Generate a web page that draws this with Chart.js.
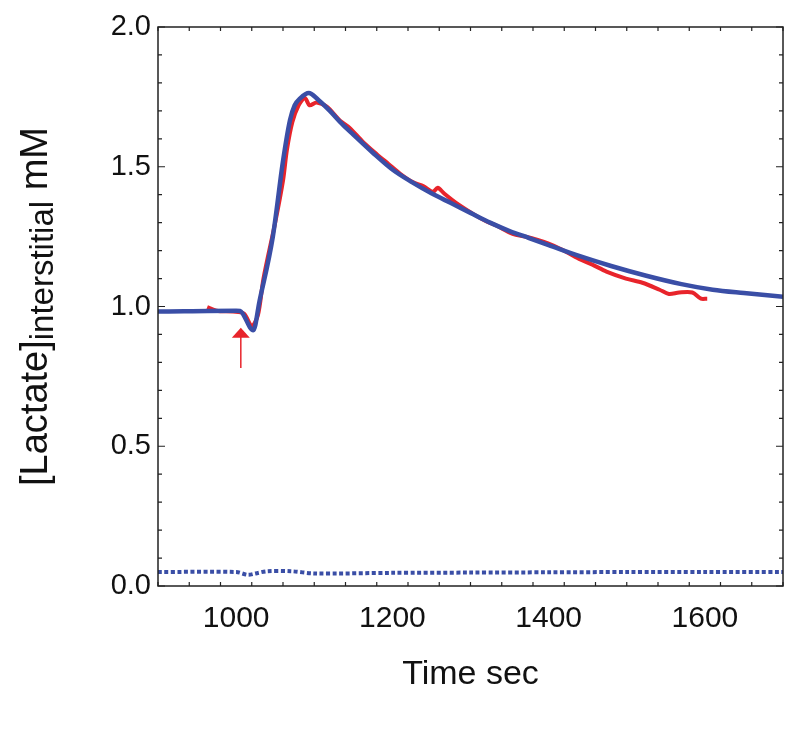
<!DOCTYPE html>
<html lang="en">
<head>
  <meta charset="UTF-8">
  <title>Interstitial lactate</title>
  <script src="https://cdn.jsdelivr.net/npm/chart.js"></script>
  <style>
    body { margin: 0; background: #fff; }
    #wrap { width: 800px; height: 730px; }
  </style>
</head>
<body>
  <div id="wrap"><canvas id="lactChart" width="800" height="730"></canvas></div>

  <script>
    // model fit (solid blue)
    const fitTime = [900, 1000, 1005, 1022, 1030, 1047, 1060, 1069, 1075, 1082, 1093, 1105, 1120, 1135, 1150,
      1175, 1200, 1225, 1250, 1275, 1300, 1325, 1350, 1375, 1400, 1440, 1480, 1525, 1570, 1610, 1650, 1700];
    const fitLact = [0.982, 0.985, 0.984, 0.915, 1.02, 1.25, 1.52, 1.667, 1.72, 1.745, 1.764, 1.74, 1.70, 1.655, 1.615,
      1.55, 1.49, 1.445, 1.405, 1.37, 1.335, 1.30, 1.27, 1.245, 1.22, 1.18, 1.145, 1.11, 1.08, 1.06, 1.048, 1.035];

    // measured (red)
    const measTime = [963, 975, 996, 1010, 1020, 1028, 1035, 1050, 1060, 1065, 1072, 1080, 1088, 1094, 1103, 1116,
      1133, 1145, 1162, 1180, 1195, 1210, 1226, 1240, 1252, 1258, 1266, 1282, 1307, 1320, 1333, 1354, 1370, 1384,
      1400, 1416, 1439, 1456, 1474, 1499, 1520, 1542, 1554, 1567, 1584, 1595, 1603];
    const measLact = [0.998, 0.985, 0.982, 0.975, 0.93, 0.97, 1.10, 1.30, 1.45, 1.56, 1.66, 1.72, 1.746, 1.72, 1.73, 1.715,
      1.665, 1.64, 1.59, 1.545, 1.51, 1.475, 1.445, 1.43, 1.41, 1.425, 1.405, 1.37, 1.325, 1.305, 1.29, 1.26, 1.25, 1.24,
      1.225, 1.205, 1.17, 1.15, 1.125, 1.1, 1.085, 1.06, 1.045, 1.05, 1.05, 1.028, 1.028];

    // dotted blue near zero
    const dotTime = [900, 1000, 1015, 1025, 1040, 1070, 1100, 1200, 1300, 1400, 1500, 1600, 1700];
    const dotLact = [0.05, 0.05, 0.04, 0.045, 0.053, 0.053, 0.045, 0.047, 0.048, 0.049, 0.05, 0.05, 0.05];

    const xTicks = [1000, 1200, 1400, 1600];
    const yTicks = [0, 0.5, 1.0, 1.5, 2.0];
    const xMinorStep = 40;
    const yMinorStep = 0.1;

    const arrowTime = 1006;
    const arrowFrom = 0.78;
    const arrowTo = 0.924;

    const BLUE = '#3a4ea6';
    const RED = '#e8242b';
    const FONT = '"Liberation Sans", Arial, sans-serif';

    const toPoints = (xs, ys) => xs.map((x, i) => ({ x: x, y: ys[i] }));

    // frame, inward ticks on all sides, stimulus arrow, y title with subscript
    const decorPlugin = {
      id: 'decor',
      afterDraw(chart) {
        const ctx = chart.ctx;
        const xs = chart.scales.x, ys = chart.scales.y;
        const a = chart.chartArea;
        ctx.save();
        ctx.strokeStyle = '#222';
        ctx.lineWidth = 1.5;
        ctx.strokeRect(a.left, a.top, a.right - a.left, a.bottom - a.top);

        ctx.lineWidth = 1.2;
        ctx.beginPath();
        for (let v = xs.min; v <= xs.max + 1e-6; v += xMinorStep) {
          const px = xs.getPixelForValue(v);
          const len = xTicks.includes(Math.round(v)) ? 7 : 4;
          ctx.moveTo(px, a.bottom); ctx.lineTo(px, a.bottom - len);
          ctx.moveTo(px, a.top); ctx.lineTo(px, a.top + len);
        }
        for (let v = ys.min; v <= ys.max + 1e-6; v += yMinorStep) {
          const py = ys.getPixelForValue(v);
          const major = yTicks.some(t => Math.abs(t - v) < 1e-6);
          const len = major ? 7 : 4;
          ctx.moveTo(a.left, py); ctx.lineTo(a.left + len, py);
          ctx.moveTo(a.right, py); ctx.lineTo(a.right - len, py);
        }
        ctx.stroke();

        // red arrow
        const ax = xs.getPixelForValue(arrowTime);
        const ay0 = ys.getPixelForValue(arrowFrom);
        const ay1 = ys.getPixelForValue(arrowTo);
        ctx.strokeStyle = RED;
        ctx.fillStyle = RED;
        ctx.lineWidth = 1.5;
        ctx.beginPath();
        ctx.moveTo(ax, ay0); ctx.lineTo(ax, ay1 + 6);
        ctx.stroke();
        ctx.beginPath();
        ctx.moveTo(ax, ay1);
        ctx.lineTo(ax - 9, ay1 + 10);
        ctx.lineTo(ax + 9, ay1 + 10);
        ctx.closePath();
        ctx.fill();

        // y axis title
        const cy = (a.top + a.bottom) / 2;
        ctx.translate(35, cy);
        ctx.rotate(-Math.PI / 2);
        ctx.fillStyle = '#111';
        ctx.textBaseline = 'alphabetic';
        const big = '38px ' + FONT, small = '33px ' + FONT;
        const parts = [['[Lactate]', big, 0], ['interstitial', small, 6], [' mM', big, 0]];
        let total = 0;
        parts.forEach(p => { ctx.font = p[1]; total += ctx.measureText(p[0]).width; });
        let x = -total / 2;
        parts.forEach(p => {
          ctx.font = p[1];
          ctx.fillText(p[0], x, 12 + p[2]);
          x += ctx.measureText(p[0]).width;
        });
        ctx.restore();
      }
    };

    new Chart(document.getElementById('lactChart'), {
      type: 'line',
      data: {
        datasets: [
          {
            label: 'model',
            data: toPoints(fitTime, fitLact),
            borderColor: BLUE,
            borderWidth: 4.5,
            pointRadius: 0,
            cubicInterpolationMode: 'monotone'
          },
          {
            label: 'measured',
            data: toPoints(measTime, measLact),
            borderColor: RED,
            borderWidth: 4,
            pointRadius: 0,
            tension: 0.3
          },
          {
            label: 'baseline',
            data: toPoints(dotTime, dotLact),
            borderColor: BLUE,
            borderWidth: 4,
            borderDash: [4, 2.5],
            pointRadius: 0,
            tension: 0.3
          }
        ]
      },
      options: {
        responsive: false,
        animation: false,
        layout: { padding: { top: 27, right: 17, left: 0, bottom: 0 } },
        plugins: { legend: { display: false }, tooltip: { enabled: false } },
        scales: {
          x: {
            type: 'linear',
            min: 900,
            max: 1700,
            afterBuildTicks: s => { s.ticks = xTicks.map(v => ({ value: v })); },
            afterFit: s => { s.height = 144; },
            grid: { display: false, drawTicks: false },
            border: { display: false },
            ticks: { font: { family: FONT, size: 30 }, color: '#111', padding: 15, maxRotation: 0, callback: v => String(v) },
            title: { display: true, text: 'Time sec', font: { family: FONT, size: 34 }, color: '#111', padding: { top: 4, bottom: 35 } }
          },
          y: {
            min: 0,
            max: 2,
            afterBuildTicks: s => { s.ticks = yTicks.map(v => ({ value: v })); },
            afterFit: s => { s.width = 158; },
            grid: { display: false, drawTicks: false },
            border: { display: false },
            ticks: { font: { family: FONT, size: 29 }, color: '#111', padding: 7, callback: v => v.toFixed(1) }
          }
        }
      },
      plugins: [decorPlugin]
    });
  </script>
</body>
</html>
